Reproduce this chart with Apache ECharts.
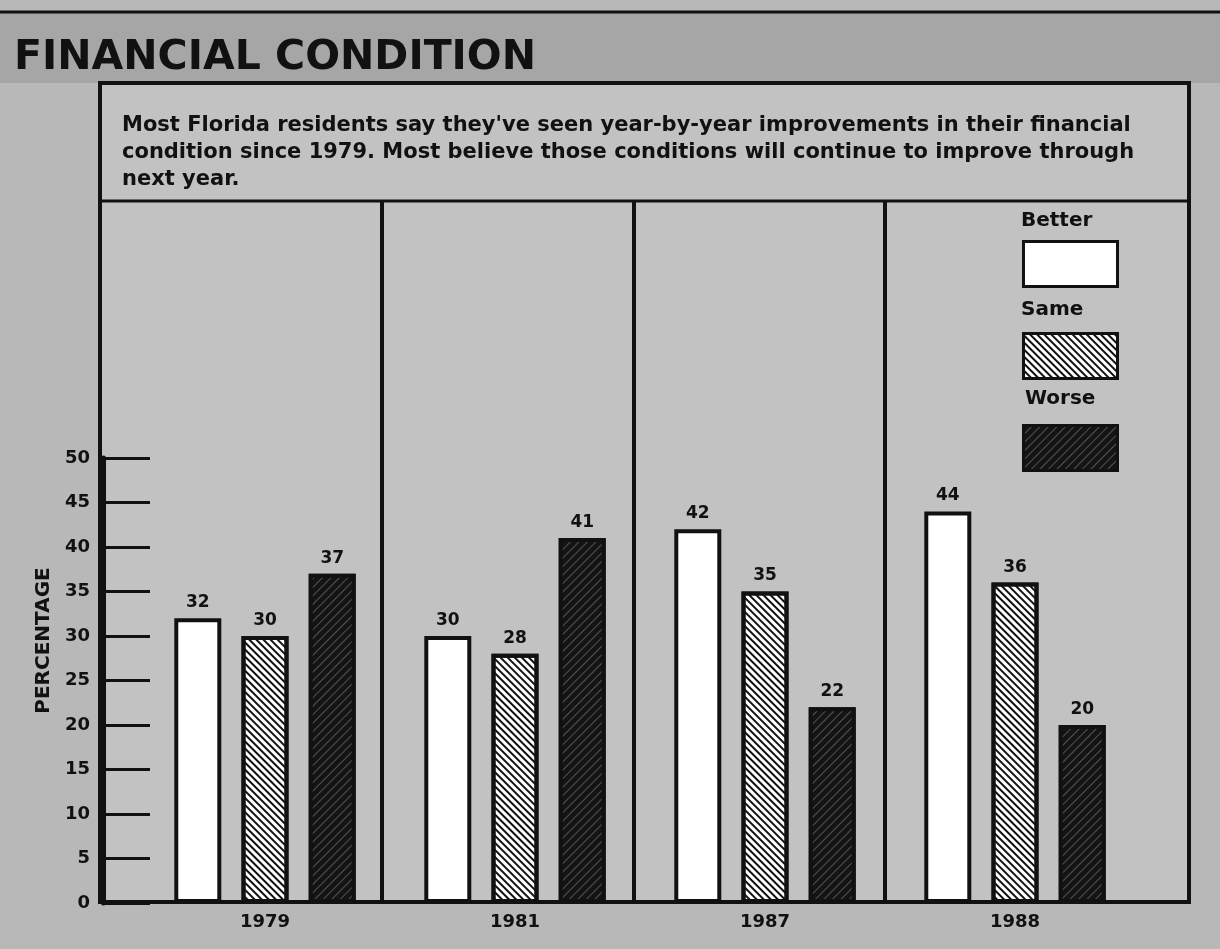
<!DOCTYPE html>
<html>
<head>
<meta charset="utf-8">
<script src="https://cdn.jsdelivr.net/npm/echarts@6/dist/echarts.min.js"></script>
<style>
  html, body { margin: 0; padding: 0; width: 100%; height: 100%; background: #b8b8b8; }
  #chart { width: 1220px; height: 949px; }
</style>
</head>
<body>
<div id="chart"></div>
<script>
// data
const years = ['1979', '1981', '1987', '1988'];
const better = [32, 30, 42, 44];
const same = [30, 28, 35, 36];
const worse = [37, 41, 22, 20];
const yTicks = [0, 5, 10, 15, 20, 25, 30, 35, 40, 45, 50];

const FONT = 'DejaVu Sans';
const INK = '#111';

const chart = echarts.init(document.getElementById('chart'));

const barLabel = {
  show: true,
  position: 'top',
  distance: 7,
  color: INK,
  fontFamily: FONT,
  fontWeight: 'bold',
  fontSize: 17
};

const option = {
  backgroundColor: '#b8b8b8',
  animation: false,
  title: [
    {
      text: 'FINANCIAL CONDITION',
      left: 9,
      top: 33,
      textStyle: { fontFamily: FONT, fontWeight: 'bold', fontSize: 41, color: INK }
    },
    {
      text: "Most Florida residents say they've seen year-by-year improvements in their financial\ncondition since 1979. Most believe those conditions will continue to improve through\nnext year.",
      left: 117,
      top: 107,
      textStyle: { fontFamily: FONT, fontWeight: 'bold', fontSize: 21, lineHeight: 27, color: INK }
    }
  ],
  legend: {
    orient: 'vertical',
    left: 1017,
    top: 235,
    icon: 'rect',
    itemWidth: 94,
    itemHeight: 45,
    itemGap: 44,
    itemStyle: { borderColor: INK, borderWidth: 3 },
    formatter: () => '',
    selectedMode: false,
    data: ['Better', 'Same', 'Worse']
  },
  grid: [
    // bars
    { left: 140, right: 80, top: 458, bottom: 46 },
    // group separators only: spans from the first to the last divider
    { left: 382, right: 335, top: 202, bottom: 46 }
  ],
  xAxis: [
    {
      type: 'category',
      gridIndex: 0,
      data: years,
      axisLine: { show: false },
      axisTick: { show: false },
      axisLabel: { color: INK, fontFamily: FONT, fontWeight: 'bold', fontSize: 18, margin: 10 }
    },
    {
      type: 'value',
      gridIndex: 1,
      min: 1,
      max: years.length - 1,
      interval: 1,
      axisLine: { show: false },
      axisTick: { show: false },
      axisLabel: { show: false },
      splitLine: { show: true, lineStyle: { color: INK, width: 4 } }
    }
  ],
  yAxis: [
    {
      type: 'value',
      gridIndex: 0,
      min: 0,
      max: 50,
      interval: 5,
      offset: 37,
      name: 'PERCENTAGE',
      nameLocation: 'middle',
      nameGap: 48,
      nameTextStyle: { color: INK, fontFamily: FONT, fontWeight: 'bold', fontSize: 20, padding: [0, 0, 0, 80] },
      axisLine: { show: true, lineStyle: { color: INK, width: 5 } },
      axisTick: { show: true, inside: true, length: 47, lineStyle: { color: INK, width: 3 } },
      axisLabel: {
        color: INK, fontFamily: FONT, fontWeight: 'bold', fontSize: 18, margin: 13,
        formatter: (v) => (yTicks.indexOf(v) >= 0 ? String(v) : '')
      },
      splitLine: { show: false }
    },
    { type: 'value', gridIndex: 1, show: false }
  ],
  graphic: [
    // title band
    { type: 'rect', z: -20, shape: { x: 0, y: 12, width: 1220, height: 71 }, style: { fill: '#a6a6a6' } },
    { type: 'line', z: -5, shape: { x1: 0, y1: 12, x2: 1220, y2: 12 }, style: { stroke: INK, lineWidth: 3 } },
    // frame
    { type: 'rect', z: -10, shape: { x: 100, y: 83, width: 1089, height: 819 }, style: { fill: '#c2c2c2', stroke: INK, lineWidth: 4 } },
    { type: 'line', z: -5, shape: { x1: 100, y1: 201, x2: 1189, y2: 201 }, style: { stroke: INK, lineWidth: 3 } },
    // legend captions sit above the swatches
    { type: 'text', left: 1021, top: 211, style: { text: 'Better', fill: INK, font: 'bold 20px DejaVu Sans' } },
    { type: 'text', left: 1021, top: 300, style: { text: 'Same', fill: INK, font: 'bold 20px DejaVu Sans' } },
    { type: 'text', left: 1025, top: 389, style: { text: 'Worse', fill: INK, font: 'bold 20px DejaVu Sans' } }
  ],
  series: [
    {
      name: 'Better',
      type: 'bar',
      data: better,
      barWidth: 47,
      barGap: '43%',
      itemStyle: { color: '#ffffff', borderColor: INK, borderWidth: 4 },
      label: barLabel
    },
    {
      name: 'Same',
      type: 'bar',
      data: same,
      barWidth: 47,
      barGap: '43%',
      itemStyle: {
        color: '#ffffff', borderColor: INK, borderWidth: 4,
        decal: { color: INK, dashArrayX: [1, 0], dashArrayY: [2, 3], rotation: Math.PI / 4 }
      },
      label: barLabel
    },
    {
      name: 'Worse',
      type: 'bar',
      data: worse,
      barWidth: 47,
      barGap: '43%',
      itemStyle: {
        color: '#141414', borderColor: INK, borderWidth: 4,
        decal: { color: 'rgba(110,110,110,0.7)', dashArrayX: [1, 0], dashArrayY: [1, 5], rotation: -Math.PI / 4 }
      },
      label: barLabel
    }
  ]
};

chart.setOption(option);
</script>
</body>
</html>
